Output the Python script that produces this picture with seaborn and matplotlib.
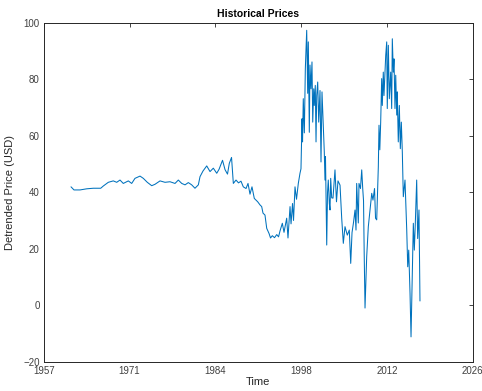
import numpy as np
import pandas as pd
import matplotlib
matplotlib.use("Agg")
import matplotlib.pyplot as plt
import seaborn as sns

# Detrended price series (decimal year, USD)
years = [
    1961.39, 1961.87, 1962.84, 1963.92, 1964.98, 1966.17, 1966.59, 1967.39, 1968.19, 1968.74,
    1969.27, 1969.80, 1970.61, 1971.15, 1971.68, 1972.49, 1973.02, 1973.66, 1974.37, 1974.90,
    1975.71, 1976.51, 1977.31, 1978.12, 1978.65, 1979.20, 1979.73, 1980.26, 1980.80, 1981.33,
    1981.87, 1982.14, 1982.62, 1983.22, 1983.75, 1984.28, 1984.83, 1985.20, 1985.76, 1986.16,
    1986.56, 1986.85, 1987.21, 1987.50, 1987.93, 1988.33, 1988.73, 1989.10, 1989.54, 1989.86,
    1990.18, 1990.50, 1990.87, 1991.42, 1991.79, 1992.06, 1992.27, 1992.59, 1992.87, 1993.24,
    1993.48, 1993.77, 1994.12, 1994.48, 1994.77, 1995.01, 1995.38, 1995.65, 1996.08, 1996.29,
    1996.62, 1996.78, 1997.02, 1997.18, 1997.42, 1997.66, 1997.95, 1998.22,
    1998.38, 1998.55, 1998.63, 1998.75, 1998.92, 1999.08, 1999.30, 1999.46, 1999.56, 1999.72,
    1999.83, 1999.99, 2000.15, 2000.27, 2000.43, 2000.52, 2000.68, 2000.80, 2000.91, 2001.07,
    2001.23, 2001.44, 2001.60, 2001.76, 2001.97, 2002.13, 2002.24, 2002.32,
    2002.52, 2002.65, 2002.77, 2002.94, 2003.05,
    2003.16, 2003.32, 2003.53, 2003.85, 2004.09, 2004.33, 2004.66, 2004.93, 2005.19, 2005.46,
    2005.83, 2006.15, 2006.38, 2006.59, 2006.83, 2007.07, 2007.23, 2007.34, 2007.60, 2007.71,
    2007.95, 2008.15, 2008.31, 2008.44, 2008.55, 2008.68, 2008.84, 2008.95, 2009.21, 2009.48,
    2009.76, 2009.96, 2010.21, 2010.37, 2010.56, 2010.69, 2010.82,
    2010.93, 2011.06, 2011.20, 2011.36, 2011.46, 2011.62, 2011.73, 2012.01, 2012.17, 2012.26,
    2012.43, 2012.59, 2012.81, 2012.97, 2013.07, 2013.23, 2013.34, 2013.50, 2013.62, 2013.78,
    2013.87, 2014.03, 2014.20, 2014.36, 2014.52, 2014.68, 2014.84,
    2015.11, 2015.39, 2015.55, 2015.71, 2015.92, 2016.08, 2016.29, 2016.45, 2016.61, 2016.77,
    2016.99, 2017.15, 2017.36, 2017.44, 2017.52,
]
prices = [
    41.9, 40.8, 40.8, 41.2, 41.4, 41.4, 42.2, 43.5, 44.0, 43.5,
    44.3, 43.1, 44.0, 43.1, 44.9, 45.7, 44.9, 43.5, 42.3, 42.8,
    44.0, 43.5, 43.7, 43.1, 44.3, 43.1, 42.6, 43.4, 42.6, 41.4,
    42.6, 45.5, 47.5, 49.3, 47.3, 48.5, 46.7, 48.1, 51.3, 48.0,
    46.4, 50.2, 52.3, 43.1, 44.3, 43.3, 43.9, 41.9, 41.3, 43.1,
    39.3, 41.9, 37.8, 36.6, 35.5, 34.9, 32.6, 31.9, 27.2, 25.4,
    23.8, 24.6, 23.9, 25.0, 24.2, 26.3, 29.0, 25.8, 30.8, 23.8,
    34.9, 28.8, 36.0, 30.0, 41.9, 37.5, 43.1, 46.7,
    48.3, 66.0, 57.8, 73.1, 61.0, 83.7, 97.3, 75.0, 93.2, 61.2,
    85.0, 76.6, 86.1, 64.8, 76.6, 70.7, 77.8, 57.8, 74.2, 79.0,
    64.8, 76.0, 50.7, 75.5, 63.6, 54.2, 44.3, 52.6,
    21.3, 40.0, 44.3, 36.0, 33.7,
    44.9, 38.0, 37.9, 47.9, 36.6, 44.0, 42.5, 30.8, 21.9, 27.8,
    24.8, 26.6, 14.8, 25.7, 29.3, 33.7, 26.6, 43.1, 29.1, 43.1,
    41.3, 47.9, 41.3, 37.0, 18.0, -1.0, 10.0, 17.2, 27.8, 33.7,
    39.6, 37.2, 41.3, 30.8, 30.2, 40.0, 49.0,
    63.7, 55.0, 64.8, 80.2, 70.7, 82.5, 74.2, 88.4, 93.2, 69.6,
    92.0, 73.1, 82.5, 69.6, 94.3, 82.5, 87.2, 69.6, 81.4, 67.3,
    75.5, 57.8, 70.7, 55.4, 64.8, 54.2, 38.4,
    44.3, 26.6, 13.6, 19.5, 4.2, -11.2, 11.4, 29.0, 19.5, 29.0,
    44.3, 23.6, 33.7, 17.2, 1.5,
]

tick_labels = ["1957", "1971", "1984", "1998", "2012", "2026"]
y_ticks = [-20, 0, 20, 40, 60, 80, 100]

df = pd.DataFrame({"Time": years, "Price": prices})

sns.set_style("white")
plt.rcParams["font.family"] = ["Liberation Sans", "DejaVu Sans"]

fig = plt.figure(figsize=(4.82, 3.91), dpi=100)
ax = fig.add_axes([0.0907, 0.0749, 0.8900, 0.8671])

sns.lineplot(data=df, x="Time", y="Price", ax=ax, color="#0072BD",
             linewidth=0.75, estimator=None, sort=False)

x0, x1 = 1957.0, 2026.0
ax.set_xlim(x0, x1)
ax.set_ylim(-20, 100)
ax.set_xticks(np.linspace(x0, x1, len(tick_labels)))
ax.set_xticklabels(tick_labels)
ax.set_yticks(y_ticks)

axis_grey = "#262626"
for side in ax.spines.values():
    side.set_visible(True)
    side.set_color(axis_grey)
    side.set_linewidth(0.7)
ax.tick_params(direction="in", length=3, width=0.6, colors=axis_grey,
               labelsize=7, top=True, right=True, pad=3)
for lbl in ax.get_xticklabels() + ax.get_yticklabels():
    lbl.set_color("#404040")

ax.set_title("Historical Prices", fontsize=7.5, fontweight="bold", color="black", pad=4)
ax.set_xlabel("Time", fontsize=8, color=axis_grey, labelpad=1)
ax.set_ylabel("Detrended Price (USD)", fontsize=8, color=axis_grey, labelpad=6)

fig.savefig("out.png", dpi=100)
